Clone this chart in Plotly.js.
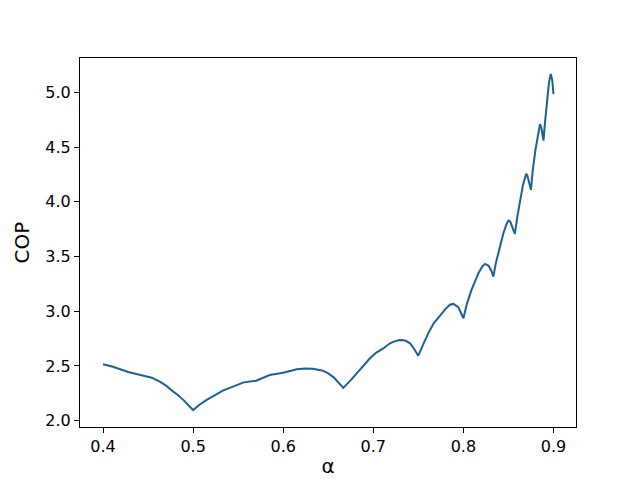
<!DOCTYPE html>
<html>
<head>
<meta charset="utf-8">
<script src="https://cdn.plot.ly/plotly-3.0.1.min.js"></script>
<style>html,body{margin:0;padding:0;background:#fff;}#chart{width:640px;height:480px;}</style>
</head>
<body>
<div id="chart"></div>
<script>
const alpha = [0.400,0.411,0.428,0.441,0.454,0.463,0.470,0.478,0.483,0.489,0.494,0.500,0.507,0.515,0.533,0.556,0.570,0.585,0.600,0.615,0.624,0.633,0.644,0.650,0.656,0.661,0.6667,0.676,0.6815,0.689,0.6963,0.703,0.711,0.7186,0.722,0.728,0.7316,0.736,0.7408,0.745,0.750,0.755,0.7611,0.767,0.7741,0.780,0.785,0.7889,0.7944,0.797,0.800,0.804,0.809,0.8167,0.821,0.824,0.828,0.831,0.8333,0.836,0.839,0.8444,0.848,0.850,0.852,0.8571,0.860,0.863,0.866,0.8697,0.871,0.875,0.877,0.880,0.883,0.885,0.8865,0.8889,0.8905,0.8927,0.895,0.897,0.8985,0.900];
const cop = [2.515,2.493,2.445,2.417,2.393,2.356,2.32,2.265,2.235,2.19,2.15,2.097,2.145,2.19,2.274,2.35,2.365,2.417,2.438,2.469,2.476,2.475,2.457,2.432,2.396,2.35,2.30,2.38,2.433,2.50,2.57,2.62,2.66,2.707,2.72,2.735,2.737,2.73,2.707,2.66,2.594,2.69,2.80,2.89,2.966,3.02,3.06,3.067,3.037,2.995,2.936,3.07,3.195,3.348,3.41,3.433,3.415,3.37,3.317,3.44,3.545,3.713,3.80,3.829,3.82,3.707,3.87,4.018,4.15,4.256,4.24,4.11,4.29,4.476,4.64,4.71,4.68,4.56,4.72,4.90,5.09,5.168,5.12,4.985];
const xTicks = [0.4,0.5,0.6,0.7,0.8,0.9];
const yTicks = [2.0,2.5,3.0,3.5,4.0,4.5,5.0];

const font = {family: 'DejaVu Sans, sans-serif', size: 16, color: '#000'};
Plotly.newPlot('chart', [{
  x: alpha, y: cop, type: 'scatter', mode: 'lines',
  line: {color: '#1b6192', width: 2}
}], {
  width: 640, height: 480,
  margin: {l: 80, r: 64, t: 58, b: 53},
  paper_bgcolor: '#fff', plot_bgcolor: '#fff',
  showlegend: false,
  font: font,
  xaxis: {
    range: [0.3744, 0.925], tickvals: xTicks, ticktext: xTicks.map(v => v.toFixed(1)),
    showgrid: false, zeroline: false, showline: true, mirror: true, linecolor: '#000', linewidth: 1,
    ticks: 'outside', ticklen: 5, tickcolor: '#000', tickfont: font,
    title: {text: 'α', font: {family: 'DejaVu Sans, sans-serif', size: 20, color: '#000'}, standoff: 3}
  },
  yaxis: {
    range: [1.942, 5.315], tickvals: yTicks, ticktext: yTicks.map(v => v.toFixed(1)),
    showgrid: false, zeroline: false, showline: true, mirror: true, linecolor: '#000', linewidth: 1,
    ticks: 'outside', ticklen: 5, tickcolor: '#000', tickfont: font,
    title: {text: 'COP', font: {family: 'DejaVu Sans, sans-serif', size: 20, color: '#000'}, standoff: 10}
  }
}, {staticPlot: true, displayModeBar: false});
</script>
</body>
</html>
